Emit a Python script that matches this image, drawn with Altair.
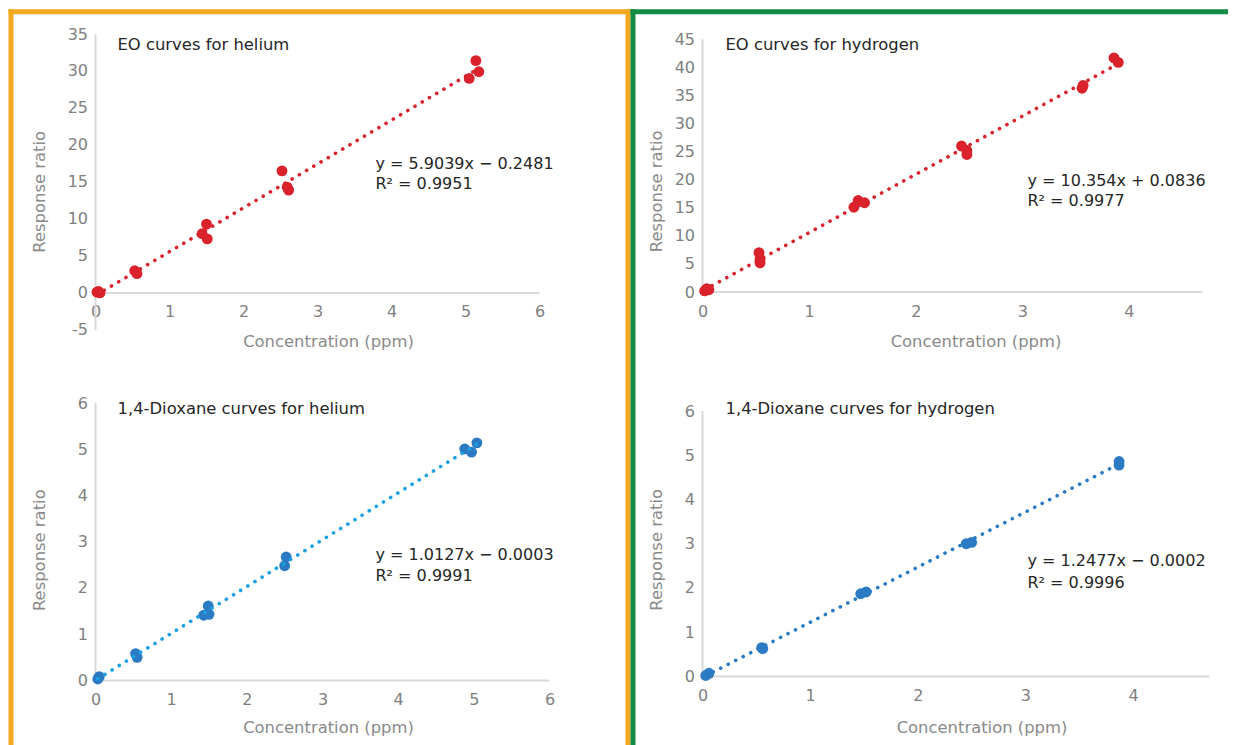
import altair as alt
import pandas as pd

# ---------------- data ----------------
eo_he_x = [0.02, 0.04, 0.06, 0.53, 0.56, 1.44, 1.50, 1.51, 2.52, 2.59, 2.61, 5.05, 5.14, 5.18]
eo_he_y = [0.1, 0.2, 0.0, 3.0, 2.6, 8.0, 9.3, 7.3, 16.5, 14.3, 13.9, 29.0, 31.4, 29.9]

eo_h2_x = [0.02, 0.04, 0.06, 0.53, 0.54, 0.54, 1.42, 1.46, 1.52, 2.43, 2.48, 2.48, 3.56, 3.57, 3.86, 3.90]
eo_h2_y = [0.2, 0.6, 0.4, 7.0, 5.9, 5.2, 15.1, 16.3, 15.9, 26.0, 25.2, 24.5, 36.3, 36.8, 41.7, 40.9]

dx_he_x = [0.03, 0.05, 0.53, 0.55, 1.43, 1.49, 1.50, 2.50, 2.52, 4.88, 4.97, 5.04]
dx_he_y = [0.03, 0.08, 0.58, 0.50, 1.41, 1.61, 1.43, 2.48, 2.67, 5.01, 4.94, 5.14]

dx_h2_x = [0.03, 0.06, 0.55, 0.56, 1.47, 1.52, 2.45, 2.50, 3.87, 3.87]
dx_h2_y = [0.02, 0.07, 0.65, 0.63, 1.87, 1.91, 3.00, 3.03, 4.86, 4.78]

titles = ["EO curves for helium", "EO curves for hydrogen",
          "1,4-Dioxane curves for helium", "1,4-Dioxane curves for hydrogen"]
equations = [("y = 5.9039x − 0.2481", "R² = 0.9951"),
             ("y = 10.354x + 0.0836", "R² = 0.9977"),
             ("y = 1.0127x − 0.0003", "R² = 0.9991"),
             ("y = 1.2477x − 0.0002", "R² = 0.9996")]

x_ticks_he = [0, 1, 2, 3, 4, 5, 6]
x_ticks_h2 = [0, 1, 2, 3, 4]
y_ticks_eo_he = [-5, 0, 5, 10, 15, 20, 25, 30, 35]
y_ticks_eo_h2 = [0, 5, 10, 15, 20, 25, 30, 35, 40, 45]
y_ticks_dx = [0, 1, 2, 3, 4, 5, 6]

RED = "#D9222B"
BLUE = "#2B7BC4"
CYAN = "#1BA1E2"
AXIS_LINE = "#D9D9D9"
TEXT = "#262626"
ORANGE = "#F2A91F"
GREEN = "#138B45"
FONT = "DejaVu Sans"

one = pd.DataFrame({"k": [0]})


def panel(xs, ys, xdom, ydom, xline, yline, xvals, yvals, w, h, xoff,
          pcol, lcol, title, eq, tpos, eqpos, ytitle, xtitle, extra=None):
    df = pd.DataFrame({"x": xs, "y": ys})
    xenc = alt.X("x:Q", scale=alt.Scale(domain=xdom, nice=False, zero=False),
                 axis=alt.Axis(values=xvals, tickCount=30, title="Concentration (ppm)", offset=xoff,
                               domain=False, ticks=False, grid=False, labelFlush=False,
                               labelOverlap=False, labelExpr="'' + datum.value",
                               labelPadding=11, titleX=xtitle[0], titleY=xtitle[1],
                               titleBaseline="middle", titleAnchor="middle"))
    yenc = alt.Y("y:Q", scale=alt.Scale(domain=ydom, nice=False, zero=False),
                 axis=alt.Axis(values=yvals, tickCount=30, title="Response ratio", domain=False,
                               ticks=False, grid=False, labelFlush=False, labelPadding=8,
                               labelOverlap=False, labelExpr="'' + datum.value",
                               titleX=ytitle[0], titleY=ytitle[1],
                               titleBaseline="middle", titleAnchor="middle"))
    base = alt.Chart(df)
    hline = alt.Chart(one).mark_rule(color=AXIS_LINE, strokeWidth=2).encode(
        x=alt.datum(xline[0]), x2=alt.datum(xline[1]), y=alt.datum(0))
    vline = alt.Chart(one).mark_rule(color=AXIS_LINE, strokeWidth=2).encode(
        x=alt.datum(0), y=alt.datum(yline[0]), y2=alt.datum(yline[1]))
    pts = base.mark_circle(size=118, opacity=1, color=pcol).encode(x=xenc, y=yenc)
    trend = base.transform_regression("x", "y").mark_line(
        color=lcol, strokeWidth=3.6, strokeDash=[0.1, 8.3], strokeCap="round"
    ).encode(x=xenc, y=yenc)
    ttl = alt.Chart(one).mark_text(align="left", baseline="middle", font=FONT,
                                   fontSize=16.4, color=TEXT).encode(
        x=alt.value(tpos[0]), y=alt.value(tpos[1]), text=alt.value(title))
    e1 = alt.Chart(one).mark_text(align="left", baseline="middle", font=FONT,
                                  fontSize=16, color=TEXT).encode(
        x=alt.value(eqpos[0]), y=alt.value(eqpos[1]), text=alt.value(eq[0]))
    e2 = alt.Chart(one).mark_text(align="left", baseline="middle", font=FONT,
                                  fontSize=16, color=TEXT).encode(
        x=alt.value(eqpos[0]), y=alt.value(eqpos[2]), text=alt.value(eq[1]))
    layers = [hline, vline, pts, trend, ttl, e1, e2]
    if extra:
        layers += extra
    return alt.layer(*layers).properties(width=w, height=h)


# frames (pixel positions relative to the top-left plot origin)
def frule(color, x, x2, y, y2):
    return alt.Chart(one).mark_rule(color=color, strokeWidth=5, strokeCap="square").encode(
        x=alt.value(x), x2=alt.value(x2), y=alt.value(y), y2=alt.value(y2))


frames = [
    frule(ORANGE, -84.5, 532.5, -22.2, -22.2),
    frule(ORANGE, -84.5, -84.5, -22.2, 708.8),
    frule(ORANGE, 532.5, 532.5, -22.2, 708.8),
    frule(GREEN, 537.5, 1130.5, -22.2, -22.2),
    frule(GREEN, 537.5, 537.5, -22.2, 708.8),
]

tl = panel(eo_he_x, eo_he_y, [0, 6], [-5, 35], [0, 6], [-5, 35], x_ticks_he, y_ticks_eo_he,
           444, 295.9, -37.0, RED, RED, titles[0], equations[0],
           (22, 11.3), (280, 130.3, 150.3), (-56, 157.3), (232.5, 48.3), extra=frames)
tr = panel(eo_h2_x, eo_h2_y, [0, 4.69], [0, 45.96], [0, 4.69], [0, 45], x_ticks_h2, y_ticks_eo_h2,
           500, 258, 0, RED, RED, titles[1], equations[1],
           (23, 11.3), (325, 147.3, 167.3), (-46, 156.8), (273, 49.3))
bl = panel(dx_he_x, dx_he_y, [0, 6], [0, 6], [0, 6], [0, 6], x_ticks_he, y_ticks_dx,
           454, 277.3, 0, BLUE, CYAN, titles[2], equations[2],
           (22, 6.3), (280, 152.3, 173.3), (-56, 146.6), (232.5, 47))
br = panel(dx_h2_x, dx_h2_y, [0, 4.71], [0, 6.181], [0, 4.71], [0, 6], x_ticks_h2, y_ticks_dx,
           507, 273.3, 0, BLUE, BLUE, titles[3], equations[3],
           (23, 6.3), (325, 158.3, 180.3), (-46, 146.3), (279, 51))

chart = alt.concat(tl, tr, bl, br, columns=2, bounds="flush",
                   spacing={"row": 73.1, "column": 153}).properties(
    padding={"left": -1.5, "top": 0, "right": -2.5, "bottom": 0},
    background="white",
).configure_view(stroke=None).configure_axis(
    labelFont=FONT, labelFontSize=16, labelColor="#7F7F7F",
    labelOverlap=False, labelFlush=False,
    titleFont=FONT, titleFontSize=16.4, titleColor="#8A8A8A", titleFontWeight="normal",
)

chart.save("out.html", embed_options={"renderer": "svg", "actions": False})
